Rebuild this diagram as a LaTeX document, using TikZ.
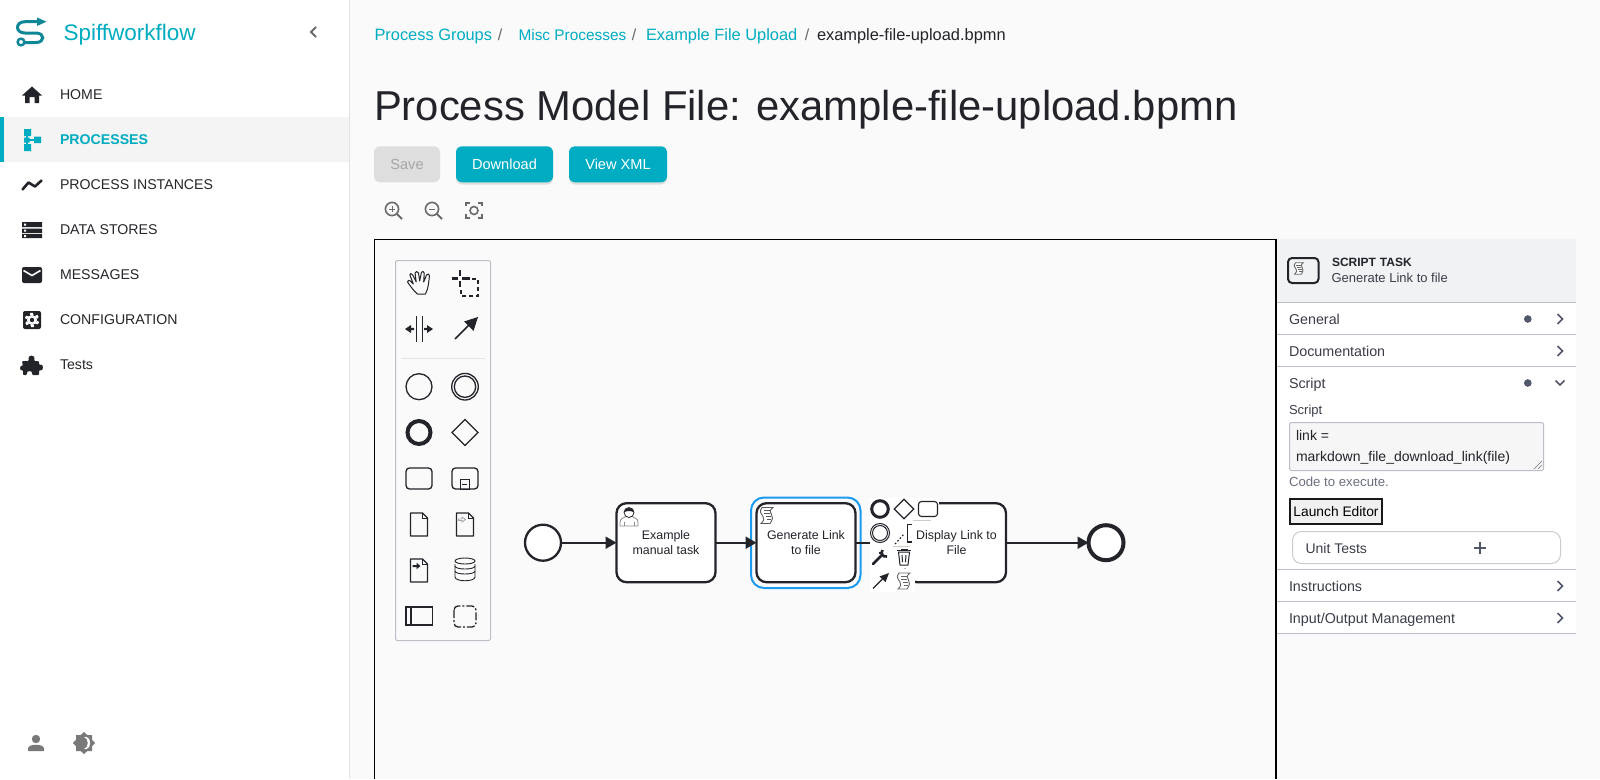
\documentclass[tikz,border=0pt]{standalone}
\usepackage{fontspec}
\setmainfont{Liberation Sans}
\usetikzlibrary{arrows.meta,shapes.geometric,calc}
\definecolor{cyanui}{HTML}{00ACC1}
\definecolor{logoteal}{HTML}{0E8798}
\definecolor{ink}{HTML}{22242A}
\definecolor{navtext}{HTML}{26262B}
\definecolor{mainbg}{HTML}{FAFAFA}
\definecolor{rowbg}{HTML}{F4F4F4}
\definecolor{sideline}{HTML}{E2E2E2}
\definecolor{panelhead}{HTML}{F1F2F4}
\definecolor{panelline}{HTML}{BCBEC8}
\definecolor{paneltext}{HTML}{3B3D48}
\definecolor{dotgrey}{HTML}{52566A}
\definecolor{iconGrey}{HTML}{6A6A6A}
\definecolor{selblue}{HTML}{1A9BF0}
\tikzset{
  x=1pt,y=-1pt,
  every node/.style={inner sep=0pt,outer sep=0pt},
  caph/.style={text height=#1,text depth=0pt},
  caph/.default=10pt,
  nav/.style={anchor=west,caph,font=\fontsize{14.15}{16}\selectfont,text=navtext},
  crumb/.style={anchor=west,caph=11.5pt,font=\fontsize{16.4}{18}\selectfont,text=cyanui},
  sep/.style={anchor=center,caph=11.5pt,font=\fontsize{16}{18}\selectfont,text=iconGrey},
  btn/.style={draw=none,fill=cyanui,rounded corners=6pt,text=white,font=\fontsize{14.6}{16}\selectfont,minimum height=36pt,anchor=west},
  task/.style={draw=ink,line width=2.3pt,fill=white,rounded corners=10pt,minimum width=99pt,minimum height=79pt,align=center,font=\fontsize{12.4}{15}\selectfont,text=ink},
  flow/.style={draw=ink,line width=2.3pt,-{Triangle[length=11pt,width=12pt]}},
  pal/.style={draw=ink,line width=1.3pt},
  head/.style={anchor=west,caph,font=\fontsize{14.3}{16}\selectfont,text=paneltext},
  rule/.style={draw=panelline,line width=1pt},
  chev/.style={draw=dotgrey,line width=1.6pt},
  scrollic/.pic={
    \draw[line width=.9pt,draw=#1,fill=white] (-5,-8) -- (6,-8) .. controls (2,-5) and (3,-3) .. (4.5,-1) .. controls (6,1) and (6,4) .. (3,8) -- (-6,8) .. controls (-3,5) and (-2.5,3) .. (-4,1) .. controls (-6,-2) and (-8,-4) .. (-5,-8) -- cycle;
    \draw[line width=.8pt,draw=#1] (-3.5,-5) -- (2.5,-5) (-3,-2) -- (2.5,-2) (-1,1) -- (4,1) (-.5,4) -- (3.5,4);
  },
  scrollic/.default=ink
}
\begin{document}
\begin{tikzpicture}
\useasboundingbox (0,0) rectangle (1600,779);
\fill[mainbg] (0,0) rectangle (1600,779);
% sidebar
\fill[white] (0,0) rectangle (349,779);
\fill[sideline] (349,0) rectangle (350,779);
\fill[rowbg] (0,117) rectangle (349,162);
\fill[cyanui] (0,117) rectangle (4,162);
% logo
\draw[logoteal,line width=3pt] (42,21.7) -- (25,21.7) .. controls (15,21.7) and (15,33) .. (25,33) -- (36,33) .. controls (45,33) and (45,42.5) .. (36,42.5) -- (25,42.5);
\fill[logoteal] (37,17.5) -- (46.5,21.7) -- (37,26) -- cycle;
\draw[logoteal,line width=2.4pt,fill=white] (21,42) circle (3.4);
\node[anchor=west,caph=16pt,font=\fontsize{22.5}{24}\selectfont,text=cyanui] (brand) at (63.5,32) {Spiffworkflow};
\draw[iconGrey,line width=2pt] (316,27) -- (311,32) -- (316,37);
% nav
\node[nav] (home) at (60,94) {HOME};
\node[nav,text=cyanui,font=\fontsize{14.15}{16}\selectfont\bfseries] (procs) at (60,139) {PROCESSES};
\node[nav] (inst) at (60,184) {PROCESS INSTANCES};
\node[nav] (stores) at (60,229) {DATA STORES};
\node[nav] (msgs) at (60,274) {MESSAGES};
\node[nav] (config) at (60,319) {CONFIGURATION};
\node[nav] (tests) at (60,364) {Tests};
% nav icons
\fill[ink] (22,95.5) -- (32,86.5) -- (42,95.5) -- (39,95.5) -- (39,103) -- (34.5,103) -- (34.5,97) -- (29.5,97) -- (29.5,103) -- (25,103) -- (25,95.5) -- cycle;
\fill[cyanui] (24,129) rectangle (31,136) (24,144) rectangle (31,151) (24,137.5) rectangle (29.5,142.5) (34,136.5) rectangle (41,143);
\draw[cyanui,line width=1.3pt] (27,136) -- (27,144) (29,140) -- (34,140);
\draw[ink,line width=2.6pt,line cap=round,line join=round] (22.5,189.5) -- (28.5,182.5) -- (35,186.5) -- (41.5,180.5);
\fill[ink] (22,222) rectangle (42,227) (22,228.5) rectangle (42,233) (22,234) rectangle (42,238);
\fill[white] (24,223.5) rectangle (26,225.5) (24,229.7) rectangle (26,231.7) (24,235) rectangle (26,237);
\fill[ink,rounded corners=2pt] (22,267) rectangle (42,283);
\draw[white,line width=1.6pt] (23.5,270.5) -- (32,275.5) -- (40.5,270.5);
\fill[ink,rounded corners=2pt] (23,311) rectangle (41,329);
\fill[white] (32,320) circle (5);
\foreach \a in {30,90,150,210,270,330}{\fill[white] (32,320) ++(\a-22:5) -- ++(\a:2.6) -- ++(\a+90:2.6) -- ++(\a+160:2.6) -- cycle;}
\fill[ink] (32,320) circle (2.2);
\fill[ink,rounded corners=1pt] (22,361) -- (29,361) .. controls (27,354) and (36,354) .. (34,361) -- (39,361) -- (39,365) .. controls (44,363) and (44,372) .. (39,370) -- (39,375) -- (32,375) .. controls (33,370) and (26,370) .. (27,375) -- (23,375) -- (23,370) .. controls (19,371) and (20,365) .. (23,366) -- cycle;
% bottom icons
\fill[iconGrey!90] (36,739) circle (4.2);
\fill[iconGrey!90] (28,751) -- (28,748.5) .. controls (28,743.5) and (44,743.5) .. (44,748.5) -- (44,751) -- cycle;
\fill[iconGrey!90] (84,732) -- (87.3,735) -- (92,735) -- (92,739.7) -- (95,743) -- (92,746.3) -- (92,751) -- (87.3,751) -- (84,754) -- (80.7,751) -- (76,751) -- (76,746.3) -- (73,743) -- (76,739.7) -- (76,735) -- (80.7,735) -- cycle;
\fill[white] (84,737) .. controls (89,738) and (89,748) .. (84,749) .. controls (92,751) and (92,735) .. (84,737) -- cycle;
% breadcrumbs
\node[crumb] (c1) at (374.5,34.7) {Process Groups};
\node[sep] (s1) at (500,34.7) {/};
\node[crumb,font=\fontsize{15.4}{18}\selectfont] (c2) at (518.5,34.7) {Misc Processes};
\node[sep] (s2) at (634,34.7) {/};
\node[crumb] (c3) at (646,34.7) {Example File Upload};
\node[sep] (s3) at (807,34.7) {/};
\node[crumb,text=ink] (c4) at (817,34.7) {example-file-upload.bpmn};
\node[anchor=west,caph=30pt,font=\fontsize{41.8}{48}\selectfont,text=ink] (title) at (374,105.5) {Process Model File: example-file-upload.bpmn};
% buttons
\fill[gray!45,rounded corners=6pt,opacity=.55] (456,148) rectangle (553,184.5);
\fill[gray!45,rounded corners=6pt,opacity=.55] (569,148) rectangle (667,184.5);
\node[btn,fill=black!13,text=black!35,minimum width=66pt] (save) at (374,164.3) {Save};
\node[btn,minimum width=97pt] (dl) at (456,164.3) {Download};
\node[btn,minimum width=98pt] (xml) at (569,164.3) {View XML};
% zoom icons
\draw[iconGrey,line width=1.6pt] (392,209) circle (6.6);
\draw[iconGrey,line width=2pt] (397,214) -- (402,219);
\draw[iconGrey,line width=1pt] (389,209) -- (395,209) (392,206) -- (392,212);
\draw[iconGrey,line width=1.6pt] (432,209) circle (6.6);
\draw[iconGrey,line width=2pt] (437,214) -- (442,219);
\draw[iconGrey,line width=1pt] (429,209) -- (435,209);
\draw[iconGrey,line width=1.6pt] (474,210.5) circle (4);
\draw[iconGrey,line width=1.8pt] (466,206) -- (466,203) -- (470,203) (478,203) -- (482,203) -- (482,206) (482,214) -- (482,218) -- (478,218) (470,218) -- (466,218) -- (466,214);
% right panel
\fill[white] (1277,239) rectangle (1576,633.3);
\fill[panelhead] (1277,239) rectangle (1576,302);
% canvas frame
\coordinate (fa) at (374.5,779);
\coordinate (fb) at (374.5,239.7);
\coordinate (fc) at (1276,239.7);
\coordinate (fd) at (1276,779);
\draw[black,line width=1.4pt] (fa) -- (fb) -- (fc) -- (fd);
% palette
\draw[draw=panelline,line width=1pt,fill=mainbg,rounded corners=2pt] (395.5,260.5) rectangle (490.5,640.5);
\draw[draw=black!10,line width=1pt] (401,358) -- (485,358);
\begin{scope}[line join=round,line cap=round,shift={(407,0)},xscale=1.15,shift={(-407,0)}]
\draw[pal,line width=1pt] (416,294) .. controls (412,290) and (408,283) .. (407.5,282) .. controls (407,280) and (409,280) .. (410,281) -- (412.5,284) -- (409.5,275) .. controls (409,273) and (411,273) .. (412,275) -- (415,282) -- (414,273) .. controls (414,271) and (416.5,271) .. (417,273) -- (418,281) -- (419.5,272.5) .. controls (420,271) and (422,271) .. (422,273) -- (421.5,282) -- (424,275) .. controls (425,273) and (427,274) .. (426.5,276) .. controls (426,280) and (426,288) .. (423,294) -- cycle;
\end{scope}
\draw[ink,line width=2.6pt] (452,278.5) -- (458,278.5) (462,278.5) -- (470,278.5) (460,270) -- (460,276) (460,281) -- (460,287);
\draw[ink,line width=1.4pt,dash pattern=on 4pt off 3pt] (472,279) -- (478,279) -- (478,296) -- (461,296) -- (461,288);
\draw[ink,line width=1pt] (416,316) -- (416,342) (422,316) -- (422,342);
\fill[ink] (405,329) -- (411,325) -- (411,327.8) -- (414,327.8) -- (414,330.2) -- (411,330.2) -- (411,333) -- cycle;
\fill[ink] (433,329) -- (427,325) -- (427,327.8) -- (424,327.8) -- (424,330.2) -- (427,330.2) -- (427,333) -- cycle;
\draw[ink,line width=1.6pt] (455,339) -- (472,322);
\fill[ink] (478,317) -- (473.5,331) -- (464,321.5) -- cycle;
\draw[pal] (419,386.7) circle (13);
\draw[pal] (465,386.7) circle (13.3);
\draw[pal] (465,386.7) circle (10.7);
\draw[ink,line width=4pt] (419,432.5) circle (11.5);
\node[draw=ink,line width=1.3pt,diamond,minimum width=26pt,minimum height=26pt,aspect=1] (gw) at (465,432.5) {};
\draw[pal,rounded corners=3.5pt] (406,468) rectangle (432,489);
\draw[pal,rounded corners=3.5pt] (452,468) rectangle (478,489);
\draw[ink,line width=1pt] (460,479.5) rectangle (469,489);
\draw[ink,line width=1pt] (462,484) -- (467,484);
\draw[pal,line join=round] (410.5,536) -- (410.5,513) -- (422.5,513) -- (427.5,518) -- (427.5,536) -- cycle;
\draw[pal,line width=1pt] (422.5,513) -- (422.5,518) -- (427.5,518);
\draw[pal,line join=round] (456.5,536) -- (456.5,513) -- (468.5,513) -- (473.5,518) -- (473.5,536) -- cycle;
\draw[pal,line width=1pt] (468.5,513) -- (468.5,518) -- (473.5,518);
\draw[black!35,line width=.8pt] (458.5,519) -- (462,519) -- (462,517) -- (465.5,519.5) -- (462,522) -- (462,520.5) -- (458.5,520.5) -- cycle;
\draw[pal,line join=round] (410.5,582) -- (410.5,559) -- (422.5,559) -- (427.5,564) -- (427.5,582) -- cycle;
\draw[pal,line width=1pt] (422.5,559) -- (422.5,564) -- (427.5,564);
\fill[ink] (412.5,565) -- (416.5,565) -- (416.5,562.7) -- (420.5,566) -- (416.5,569.3) -- (416.5,567) -- (412.5,567) -- cycle;
\draw[ink,line width=.9pt] (455,564) -- (455,577) .. controls (455,582) and (475,582) .. (475,577) -- (475,564);
\draw[ink,line width=.9pt] (465,561) ellipse (10 and 3);
\draw[ink,line width=.9pt] (455,566) .. controls (455,570) and (475,570) .. (475,566) (455,571) .. controls (455,575) and (475,575) .. (475,571);
\draw[pal] (406,607) rectangle (432.5,625);
\draw[pal,draw=ink] (411,607) -- (411,625);
\draw[pal,rounded corners=4pt,dash pattern=on 8pt off 2pt on 2pt off 2pt] (454,606) rectangle (476,627);
% BPMN diagram
\node[circle,draw=ink,line width=2.3pt,fill=white,minimum size=36pt] (start) at (543,542.7) {};
\node[task] (t1) at (666,542.7) {Example\\manual task};
\node[task] (t2) at (806,542.7) {Generate Link\\to file};
\node[task] (t3) at (956.5,542.7) {Display Link to\\File};
\node[circle,draw=ink,line width=4pt,fill=white,minimum size=35pt] (end) at (1106,542.7) {};
\draw[selblue,line width=2pt,rounded corners=13pt] (751,497.5) rectangle (860.5,588);
\draw[flow] (start) -- (t1);
\draw[flow] (t1) -- (t2);
\draw[flow] (t2) -- (t3);
\draw[flow] (t3) -- (end);
% user icon
\begin{scope}[shift={(629,516.5)}]
\draw[black!45,line width=.8pt,fill=white] (-9,9.5) -- (-9,6) .. controls (-9,1) and (-5,2) .. (-3,0) -- (3,0) .. controls (5,2) and (9,1) .. (9,6) -- (9,9.5) -- cycle;
\draw[ink,line width=.8pt,fill=white] (0,-4) circle (5);
\fill[ink] (-5,-4) .. controls (-5,-10) and (5,-10) .. (5,-4) .. controls (3,-6) and (-3,-6) .. (-5,-4) -- cycle;
\draw[black!45,line width=.6pt] (-5,5) -- (-5,9.5) (5,5) -- (5,9.5);
\end{scope}
\pic at (767,515.5) {scrollic=black!65};
% context pad
\fill[white] (870,498) rectangle (915,592);
\fill[white] (915,498) rectangle (939,521);
\draw[ink,line width=3pt] (880,509) circle (8.3);
\node[draw=ink,line width=1.2pt,diamond,minimum width=19.5pt,minimum height=19.5pt,aspect=1] (padgw) at (904,509) {};
\draw[ink,line width=1.1pt,rounded corners=3pt] (918.5,501.5) rectangle (937.5,516.5);
\draw[black!20,line width=1pt] (913,520.5) -- (931,520.5);
\draw[ink,line width=1pt] (880,533) circle (9.5);
\draw[ink,line width=1pt] (880,533) circle (7.5);
\draw[ink,line width=1.2pt,dash pattern=on 1.6pt off 2pt] (895,544) -- (904,534);
\draw[ink,line width=1.2pt] (912,524.5) -- (907.5,524.5) -- (907.5,542) -- (912,542);
\draw[black!20,line width=1pt] (893,546) -- (910,546);
% wrench
\draw[ink,line width=2.6pt,line cap=round] (873,564) -- (882,555);
\draw[ink,line width=2.6pt] (882.5,550) .. controls (880.5,553) and (882.5,557.5) .. (887,556.5);
\fill[ink] (880,553) circle (1.5);
% trash
\draw[ink,line width=1pt] (897,550.5) -- (911,550.5) (901,550.5) -- (901,549) -- (907,549) -- (907,550.5);
\draw[ink,line width=1pt] (898.5,552) -- (900,565) -- (908,565) -- (909.5,552) -- cycle;
\draw[ink,line width=1pt] (902,555) -- (902.5,562) (906,555) -- (905.5,562);
\draw[black!25,line width=1pt] (904,568) -- (906,568);
% connect arrow
\draw[ink,line width=1.3pt] (873,588.5) -- (884,577.5);
\fill[ink] (889,573) -- (885.5,582) -- (879.5,576.5) -- cycle;
\pic at (904,581) {scrollic=black!60};
% panel header
\draw[draw=ink,line width=2pt,rounded corners=4pt,fill=panelhead] (1288,258) rectangle (1318.5,283);
\pic[scale=.72] at (1299,268.5) {scrollic=black!60};
\node[anchor=west,caph=9pt,font=\fontsize{12}{13}\selectfont\bfseries,text=ink] (kind) at (1332,261.7) {SCRIPT\hspace{.6pt} TASK};
\node[anchor=west,caph,font=\fontsize{13}{16}\selectfont,text=paneltext] (sel) at (1331.5,277) {Generate Link to file};
\draw[rule] (1277,302) -- (1576,302) (1277,334.3) -- (1576,334.3) (1277,366.3) -- (1576,366.3) (1277,569.3) -- (1576,569.3) (1277,601.3) -- (1576,601.3) (1277,633.3) -- (1576,633.3);
\node[head] (g1) at (1289,319) {General};
\node[head] (g2) at (1289,351) {Documentation};
\node[head] (g3) at (1289,383) {Script};
\node[head] (g4) at (1289,586) {Instructions};
\node[head] (g5) at (1289,618) {Input/Output Management};
\fill[dotgrey] (1527.8,319) circle (3.8) (1527.8,383) circle (3.8);
\draw[chev] (1557.5,314) -- (1562.5,319) -- (1557.5,324);
\draw[chev] (1557.5,346) -- (1562.5,351) -- (1557.5,356);
\draw[chev] (1555.5,380.5) -- (1560,385) -- (1564.5,380.5);
\draw[chev] (1557.5,581) -- (1562.5,586) -- (1557.5,591);
\draw[chev] (1557.5,613) -- (1562.5,618) -- (1557.5,623);
\node[anchor=west,caph=9pt,font=\fontsize{13}{15}\selectfont,text=paneltext] (lab) at (1289,410) {Script};
\draw[draw=panelline,line width=1pt,fill=black!3.5,rounded corners=1.5pt] (1289.5,422.5) rectangle (1543.5,470.5);
\node[anchor=west,caph,font=\fontsize{14}{16}\selectfont,text=ink] (l1) at (1296,435.7) {link =};
\node[anchor=west,caph,font=\fontsize{14}{16}\selectfont,text=ink] (l2) at (1296,456.7) {markdown\_file\_download\_link(file)};
\draw[black!55,line width=.6pt] (1534,469) -- (1542,461) (1538,469) -- (1542,465);
\node[anchor=west,caph=9pt,font=\fontsize{13.2}{14}\selectfont,text=dotgrey!85] (hint) at (1289,481.5) {Code to execute.};
\node[draw=black!90,line width=2pt,fill=black!6,minimum width=92pt,minimum height=25pt,anchor=west,font=\fontsize{13.8}{16}\selectfont,text=black] (edit) at (1290,511.7) {Launch Editor};
\draw[draw=black!20,line width=1pt,fill=white,rounded corners=9pt] (1292.5,531.5) rectangle (1560.5,563.5);
\node[head,font=\fontsize{14}{16}\selectfont] (unit) at (1305.5,548) {Unit Tests};
\draw[dotgrey,line width=1.7pt] (1474,548) -- (1486,548) (1480,542) -- (1480,554);
\end{tikzpicture}
\end{document}
